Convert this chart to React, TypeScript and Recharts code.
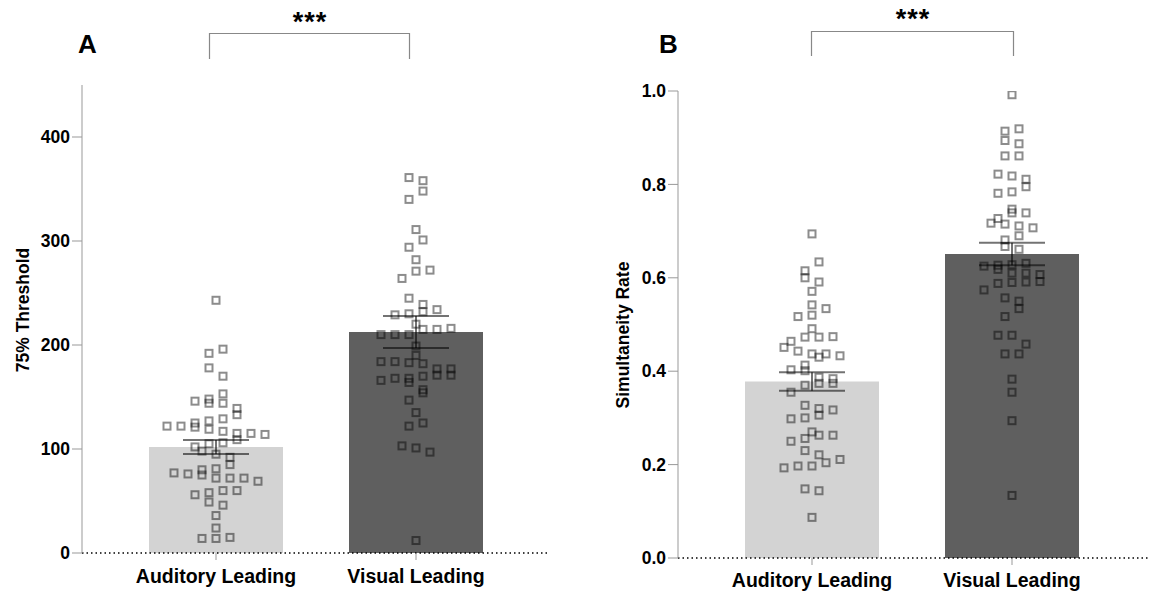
import React from "react";
import {
  ComposedChart,
  Bar,
  Cell,
  Scatter,
  XAxis,
  YAxis,
  ErrorBar,
  ReferenceLine,
} from "recharts";

const groups = ["Auditory Leading", "Visual Leading"];
const BAR_COLORS = ["#d3d3d3", "#5f5f5f"];
const FONT = "Arial, 'Liberation Sans', Helvetica, sans-serif";

// Panel A: 75% threshold
const thresholdMeans = [102, 212.5];
const thresholdSem = [6.7, 15.4];
const thresholdTicks = [0, 100, 200, 300, 400];
const thresholdAuditory = [
  243, 196, 192, 178, 170, 148, 139, 144, 153, 144, 146, 133, 125, 129, 121,
  127, 122, 114, 119, 115, 117, 122, 115, 109, 106, 98, 102, 95, 105, 92, 85,
  81, 75, 72, 76, 69, 77, 72, 80, 72, 60, 60, 56, 58, 49, 46, 36, 24, 14, 15,
  14,
];
const thresholdVisual = [
  361, 358, 348, 340, 311, 301, 294, 282, 271, 272, 264, 245, 239, 234, 230,
  229, 232, 220, 215, 216, 215, 210, 210, 210, 199, 190, 184, 184, 183, 182,
  177, 177, 171, 168, 168, 170, 166, 171, 164, 157, 154, 147, 135, 125, 122,
  103, 97, 101, 12,
];

// Panel B: simultaneity rate
const rateMeans = [0.378, 0.651];
const rateSem = [0.02, 0.024];
const rateTicks = [0, 0.2, 0.4, 0.6, 0.8, 1.0];
const rateAuditory = [
  0.694, 0.634, 0.615, 0.6, 0.591, 0.571, 0.542, 0.534, 0.52, 0.517, 0.491,
  0.473, 0.473, 0.474, 0.464, 0.451, 0.443, 0.437, 0.437, 0.43, 0.433, 0.413,
  0.403, 0.401, 0.387, 0.384, 0.37, 0.374, 0.374, 0.355, 0.327, 0.32, 0.317,
  0.306, 0.3, 0.298, 0.256, 0.27, 0.25, 0.263, 0.263, 0.221, 0.23, 0.211,
  0.193, 0.197, 0.197, 0.204, 0.144, 0.148, 0.087,
];
const rateVisual = [
  0.992, 0.919, 0.914, 0.894, 0.887, 0.861, 0.861, 0.811, 0.822, 0.818, 0.795,
  0.781, 0.784, 0.739, 0.739, 0.747, 0.727, 0.717, 0.715, 0.707, 0.711, 0.69,
  0.681, 0.667, 0.661, 0.628, 0.627, 0.625, 0.631, 0.618, 0.607, 0.61, 0.61,
  0.592, 0.588, 0.591, 0.59, 0.574, 0.557, 0.55, 0.534, 0.517, 0.477, 0.477,
  0.458, 0.437, 0.437, 0.383, 0.355, 0.294, 0.134,
];

const BAND_PX = 200; // distance between group centres
const MARKER = 9;
const STEP_PX = 14;

// simple row-based beeswarm (GraphPad style): points closer than one marker
// height share a row and are spread symmetrically around the group centre
function swarm(values: number[], group: number, pxPerUnit: number) {
  const sorted = [...values].sort((a, b) => a - b);
  const bin = MARKER / pxPerUnit;
  const step = STEP_PX / BAND_PX;
  const out: { x: number; y: number }[] = [];
  let i = 0;
  let row = 0;
  while (i < sorted.length) {
    let j = i;
    while (j < sorted.length && sorted[j] - sorted[i] < bin) j++;
    const n = j - i;
    for (let k = 0; k < n; k++) {
      const pos = row % 2 === 0 ? k : n - 1 - k;
      out.push({ x: group + (pos - (n - 1) / 2) * step, y: sorted[i + k] });
    }
    i = j;
    row++;
  }
  return out;
}

const Square = (props: any) => {
  const { cx, cy } = props;
  if (cx == null || cy == null) return null;
  return (
    <rect
      x={cx - 3.5}
      y={cy - 3.5}
      width={7}
      height={7}
      fill="none"
      stroke="#000"
      strokeOpacity={0.45}
      strokeWidth={2}
    />
  );
};

interface PanelProps {
  left: number;
  width: number;
  yWidth: number;
  top: number;
  xHeight: number;
  rightMargin: number;
  padLeft: number;
  padRight: number;
  means: number[];
  sems: number[];
  auditory: number[];
  visual: number[];
  yMax: number;
  ticks: number[];
  fmt: (v: number) => string;
  tickMargin: number;
}

const Panel: React.FC<PanelProps> = (p) => {
  const height = 593;
  const plotH = height - p.top - p.xHeight;
  const plotW = p.width - p.yWidth - p.rightMargin;
  const pxPerUnit = plotH / p.yMax;
  const numMin = -(p.padLeft + BAND_PX / 2) / BAND_PX;
  const numMax = numMin + plotW / BAND_PX;
  const barData = groups.map((g, i) => ({ name: g, mean: p.means[i], sem: p.sems[i] }));
  const points = [
    ...swarm(p.auditory, 0, pxPerUnit),
    ...swarm(p.visual, 1, pxPerUnit),
  ];
  return (
    <div style={{ position: "absolute", left: p.left, top: 0 }}>
      <ComposedChart
        width={p.width}
        height={height}
        data={barData}
        margin={{ top: p.top, right: p.rightMargin, bottom: 0, left: 0 }}
      >
        <XAxis
          xAxisId="cat"
          dataKey="name"
          type="category"
          padding={{ left: p.padLeft, right: p.padRight }}
          axisLine={false}
          tickLine={{ stroke: "#999" }}
          tickSize={7}
          tickMargin={p.tickMargin}
          height={p.xHeight}
          interval={0}
          tick={{ fill: "#000", fontSize: 19.5, fontWeight: 700, fontFamily: FONT }}
        />
        <XAxis
          xAxisId="num"
          type="number"
          dataKey="x"
          domain={[numMin, numMax]}
          allowDataOverflow
          hide
        />
        <YAxis
          domain={[0, p.yMax]}
          ticks={p.ticks}
          width={p.yWidth}
          allowDataOverflow
          axisLine={{ stroke: "#999" }}
          tickLine={{ stroke: "#999" }}
          tickSize={10}
          tickMargin={2}
          tickFormatter={p.fmt}
          tick={{ fill: "#000", fontSize: 17.5, fontWeight: 700, fontFamily: FONT }}
        />
        <Bar xAxisId="cat" dataKey="mean" barSize={134} isAnimationActive={false}>
          {barData.map((d, i) => (
            <Cell key={d.name} fill={BAR_COLORS[i]} />
          ))}
          <ErrorBar
            dataKey="sem"
            direction="y"
            width={33}
            stroke="#000"
            strokeOpacity={0.55}
            strokeWidth={2}
          />
        </Bar>
        <Scatter
          xAxisId="num"
          data={points}
          dataKey="y"
          shape={Square}
          isAnimationActive={false}
        />
        <ReferenceLine
          y={0}
          xAxisId="num"
          stroke="#000"
          strokeWidth={1.5}
          strokeDasharray="1.5 3"
        />
      </ComposedChart>
    </div>
  );
};

const textStyle = { fontFamily: FONT, fontWeight: 700, fill: "#000" } as const;

export default function App() {
  return (
    <div style={{ position: "absolute", left: 0, top: 0, width: 1155, height: 593, background: "#fff" }}>
      <Panel
        left={0}
        width={580}
        yWidth={82}
        top={85}
        xHeight={40}
        rightMargin={32}
        padLeft={34}
        padRight={32}
        means={thresholdMeans}
        sems={thresholdSem}
        auditory={thresholdAuditory}
        visual={thresholdVisual}
        yMax={450}
        ticks={thresholdTicks}
        fmt={(v) => String(v)}
        tickMargin={9}
      />
      <Panel
        left={580}
        width={575}
        yWidth={98}
        top={91}
        xHeight={35}
        rightMargin={7}
        padLeft={34}
        padRight={36}
        means={rateMeans}
        sems={rateSem}
        auditory={rateAuditory}
        visual={rateVisual}
        yMax={1}
        ticks={rateTicks}
        fmt={(v) => v.toFixed(1)}
        tickMargin={8}
      />
      <svg
        width={1155}
        height={593}
        style={{ position: "absolute", left: 0, top: 0, pointerEvents: "none" }}
      >
        <text x={78} y={53} fontSize={26} {...textStyle}>A</text>
        <text x={659} y={53} fontSize={26} {...textStyle}>B</text>
        <text x={310} y={31} fontSize={27} textAnchor="middle" letterSpacing={1} {...textStyle}>***</text>
        <text x={913} y={28} fontSize={27} textAnchor="middle" letterSpacing={1} {...textStyle}>***</text>
        <path d="M209.5,59 V33.5 H409.5 V59" fill="none" stroke="#888" strokeWidth={1.2} />
        <path d="M811.5,56 V31.5 H1013.5 V56" fill="none" stroke="#888" strokeWidth={1.2} />
        <text
          x={23}
          y={310}
          fontSize={17.5}
          textAnchor="middle"
          dominantBaseline="central"
          transform="rotate(-90 23 310)"
          {...textStyle}
        >
          75% Threshold
        </text>
        <text
          x={623}
          y={335}
          fontSize={17.5}
          textAnchor="middle"
          dominantBaseline="central"
          transform="rotate(-90 623 335)"
          {...textStyle}
        >
          Simultaneity Rate
        </text>
      </svg>
    </div>
  );
}
